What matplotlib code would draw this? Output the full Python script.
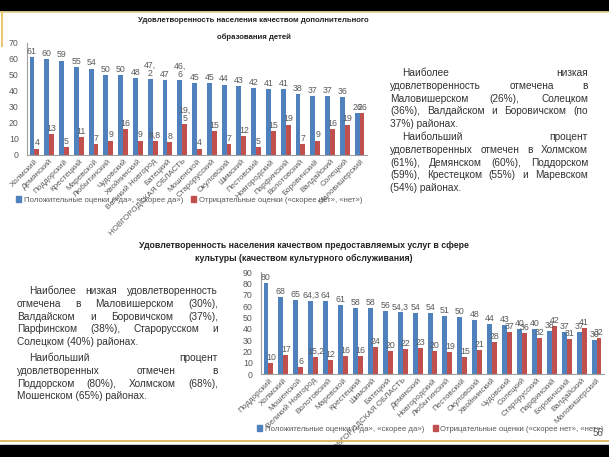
import numpy as np
import matplotlib
matplotlib.use('Agg')
import matplotlib.pyplot as plt
from matplotlib.patches import Rectangle, Patch

plt.rcParams['font.family'] = ['Liberation Sans', 'DejaVu Sans']

# ---- data: additional education for children
cat1 = ['Холмский', 'Демянский', 'Поддорский', 'Крестецкий', 'Маревской',
        'Любытинский', 'Чудовский', 'Хвойнинский', 'Великий Новгород', 'Батецкий',
        'НОВГОРОДСКАЯ ОБЛАСТЬ', 'Мошенской', 'Старорусский', 'Окуловский', 'Шимский',
        'Пестовский', 'Новгородский', 'Парфинский', 'Волотовский', 'Боровичский',
        'Валдайский', 'Солецкий', 'Маловишерский']
pos1 = [61, 60, 59, 55, 54, 50, 50, 48, 47.2, 47, 46.6, 45, 45, 44, 43, 42, 41, 41,
        38, 37, 37, 36, 26]
neg1 = [4, 13, 5, 11, 7, 9, 16, 9, 8.8, 8, 19.5, 4, 15, 7, 12, 5, 15, 19, 7, 9, 16,
        19, 26]

# ---- data: culture services
cat2 = ['Поддорский', 'Холмский', 'Мошенской', 'Великий Новгород', 'Волотовский',
        'Маревской', 'Крестецкий', 'Шимский', 'Батецкий', 'НОВГОРОДСКАЯ ОБЛАСТЬ',
        'Демянский', 'Новгородский', 'Любытинский', 'Пестовский', 'Окуловский',
        'Хвойнинский', 'Чудовский', 'Солецкий', 'Старорусский', 'Парфинский',
        'Боровичский', 'Валдайский', 'Маловишерский']
pos2 = [80, 68, 65, 64.3, 64, 61, 58, 58, 56, 54.3, 54, 54, 51, 50, 48, 44, 43, 40,
        40, 38, 37, 37, 30]
neg2 = [10, 17, 6, 15.2, 12, 16, 16, 24, 20, 22, 23, 20, 19, 15, 21, 28, 37, 36, 32,
        42, 31, 41, 32]

leg_pos = 'Положительные оценки («да», «скорее да»)'
leg_neg = 'Отрицательные оценки («скорее нет», «нет»)'

text1 = [
    ['Наиболее', 'низкая'],
    ['удовлетворенность', 'отмечена', 'в'],
    ['Маловишерском', '(26%),', 'Солецком'],
    ['(36%),', 'Валдайском', 'и', 'Боровичском', '(по'],
    ['37%) районах.'],
    ['Наибольший', 'процент'],
    ['удовлетворенных', 'отмечен', 'в', 'Холмском'],
    ['(61%),', 'Демянском', '(60%),', 'Поддорском'],
    ['(59%),', 'Крестецком', '(55%)', 'и', 'Маревском'],
    ['(54%) районах.'],
]
text2 = [
    ['Наиболее', 'низкая', 'удовлетворенность'],
    ['отмечена', 'в', 'Маловишерском', '(30%),'],
    ['Валдайском', 'и', 'Боровичском', '(37%),'],
    ['Парфинском', '(38%),', 'Старорусском', 'и'],
    ['Солецком (40%) районах.'],
    ['Наибольший', 'процент'],
    ['удовлетворенных', 'отмечен', 'в'],
    ['Поддорском', '(80%),', 'Холмском', '(68%),'],
    ['Мошенском (65%) районах.'],
]

BLUE = '#4F81BD'
RED = '#C0504D'
GREY = '#595959'
W, H = 609, 457

fig = plt.figure(figsize=(W / 100, H / 100), dpi=100)
fig.patch.set_facecolor('white')

def fx(x):
    return x / W

def fy(y):
    return 1 - y / H

# slide frame
fig.patches.append(Rectangle((0, fy(11)), 1, 11 / H, transform=fig.transFigure,
                             color='black', zorder=0))
fig.patches.append(Rectangle((0, 0), 1, 12 / H, transform=fig.transFigure,
                             color='black', zorder=0))
fig.add_artist(plt.Line2D([0, 1], [fy(12), fy(12)], color='#EEDDA0', lw=1.2))
fig.add_artist(plt.Line2D([fx(1.5), fx(1.5)], [fy(12), fy(46)], color='#E8C870', lw=1.5))
fig.add_artist(plt.Line2D([0, 1], [fy(441), fy(441)], color='#D8B45A', lw=1.3))


def fmt(v):
    if float(v).is_integer():
        return '%d' % v
    return ('%.1f' % v).replace('.', ',')


def bars(ax, cats, pos, neg, ymax, wrap=()):
    x = np.arange(len(cats))
    w = 0.33
    ax.bar(x - w / 2, pos, w, color=BLUE, zorder=2)
    ax.bar(x + w / 2, neg, w, color=RED, zorder=2)
    for i in range(len(cats)):
        for xx, v in ((x[i] - w / 2, pos[i]), (x[i] + w / 2, neg[i])):
            s = fmt(v)
            if v in wrap:
                s = s.replace(',', ',\n')
            ax.text(xx, v + ymax * 0.01, s, ha='center', va='bottom',
                    fontsize=6.3, color=GREY, linespacing=0.9, zorder=3)
    ax.set_xlim(-0.5, len(cats) - 0.5)
    ax.set_ylim(0, ymax)
    ax.set_yticks(np.arange(0, ymax + 1, 10))
    ax.set_xticks(x)
    ax.set_xticklabels(cats, rotation=45, ha='right', rotation_mode='anchor',
                       fontsize=5.8, color=GREY)
    ax.tick_params(axis='y', labelsize=6.3, labelcolor=GREY, length=0, pad=6)
    ax.tick_params(axis='x', length=0, pad=2)
    for s in ('top', 'right'):
        ax.spines[s].set_visible(False)
    for s in ('left', 'bottom'):
        ax.spines[s].set_color('#A0A0A0')
        ax.spines[s].set_linewidth(0.8)
    ax.patch.set_alpha(0)


ax1 = fig.add_axes([fx(27), fy(155), fx(340), 112 / H])
bars(ax1, cat1, pos1, neg1, 70, wrap=(47.2, 46.6, 19.5))
ax2 = fig.add_axes([fx(261), fy(374), fx(343), 102 / H])
bars(ax2, cat2, pos2, neg2, 90)

# titles
fig.text(fx(253), fy(20), 'Удовлетворенность населения качеством дополнительного',
         ha='center', va='center', fontsize=5.6, fontweight='bold', color='#222222')
fig.text(fx(254), fy(37), 'образования детей', ha='center', va='center',
         fontsize=5.6, fontweight='bold', color='#222222')
fig.text(fx(304), fy(245), 'Удовлетворенность населения качеством предоставляемых услуг в сфере',
         ha='center', va='center', fontsize=6.3, fontweight='bold', color='#222222')
fig.text(fx(304), fy(258), 'культуры (качеством культурного обслуживания)',
         ha='center', va='center', fontsize=6.3, fontweight='bold', color='#222222')

# legends
handles = [Patch(color=BLUE, label=leg_pos), Patch(color=RED, label=leg_neg)]
for lx, ly, cs in ((16, 200, 1.0), (257, 429, 1.1)):
    fig.legend(handles=handles, loc='center left', bbox_to_anchor=(fx(lx), fy(ly)),
               ncol=2, frameon=False, fontsize=5.6, labelcolor=GREY,
               handlelength=0.7, handleheight=0.7, handletextpad=0.3,
               columnspacing=cs, borderpad=0, borderaxespad=0)

fig.text(fx(598), fy(433), '56', ha='center', va='center', fontsize=7, color=GREY)

# justified paragraphs
renderer = fig.canvas.get_renderer()


def paragraph(lines, x0, x1, y0, dy, indent, firsts, pgap=0, size=7.3):
    y = y0
    for k, words in enumerate(lines):
        if k in firsts and k > 0:
            y += pgap
        left = x0 + (indent if k in firsts else 0)
        ts = [fig.text(0, fy(y), wd, fontsize=size, color='#333333', va='baseline')
              for wd in words]
        y += dy
        if len(words) == 1:
            ts[0].set_x(fx(left))
            continue
        widths = [t.get_window_extent(renderer).width for t in ts]
        gap = (x1 - left - sum(widths)) / (len(words) - 1)
        xx = left
        for t, wdt in zip(ts, widths):
            t.set_x(fx(xx))
            xx += wdt + gap


paragraph(text1, 390, 588, 76, 12.8, 12, (0, 5))
paragraph(text2, 17, 218, 294, 12.8, 12, (0, 5), pgap=3)

plt.savefig('out.png', dpi=100)
